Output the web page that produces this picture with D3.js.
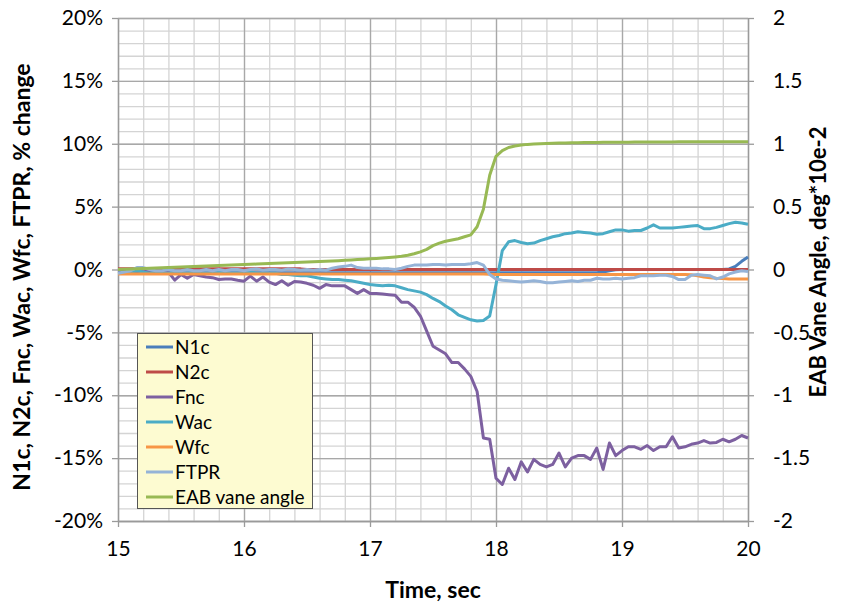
<!DOCTYPE html>
<html><head><meta charset="utf-8">
<script src="https://cdn.jsdelivr.net/npm/d3@7"></script>
<style>
html,body{margin:0;padding:0;background:#fff;}
svg{display:block;}
text{font-family:Lato,"Open Sans",sans-serif;fill:#000;}
</style></head>
<body><svg id="chart" width="849" height="606"></svg>
<script>
// sample times (s), 0.05 s step
const time = d3.range(0, 101).map(i => 15 + i * 0.05);

const xTicks = [15, 16, 17, 18, 19, 20];
const yLeftTicks = [-20, -15, -10, -5, 0, 5, 10, 15, 20];
const yRightTicks = [-2, -1.5, -1, -0.5, 0, 0.5, 1, 1.5, 2];

const seriesNames = ["N1c", "N2c", "Fnc", "Wac", "Wfc", "FTPR", "EAB vane angle"];
const seriesColors = ["#4a7ebb", "#be4b48", "#7d60a0", "#4bacc6", "#f79646", "#95b3d7", "#98b954"];

const N1c = [
 -0.25,-0.25,-0.25,-0.25,-0.25,-0.25,-0.25,-0.25,-0.25,-0.25,
 -0.25,-0.25,-0.25,-0.25,-0.25,-0.25,-0.25,-0.25,-0.25,-0.25,
 -0.25,-0.25,-0.25,-0.25,-0.25,-0.25,-0.25,-0.25,-0.25,-0.25,
 -0.25,-0.25,-0.25,-0.25,-0.25,-0.25,-0.25,-0.25,-0.25,-0.25,
 -0.25,-0.25,-0.25,-0.25,-0.25,-0.25,-0.25,-0.25,-0.25,-0.25,
 -0.25,-0.25,-0.25,-0.25,-0.25,-0.25,-0.25,-0.25,-0.25,-0.25,
 -0.25,-0.25,-0.25,-0.25,-0.25,-0.25,-0.25,-0.25,-0.25,-0.25,
 -0.25,-0.25,-0.25,-0.25,-0.25,-0.25,-0.25,-0.2,-0.1,-0.02,
 0.0,0.0,0.0,0.0,0.0,0.0,0.0,0.0,0.0,0.0,
 0.0,0.0,0.0,0.0,0.0,0.0,0.0,0.05,0.25,0.65,
 1.0];
const N2c = [
 0.05,0.05,0.05,0.05,0.05,0.05,0.05,0.05,0.05,0.05,
 0.05,0.05,0.05,0.05,0.05,0.05,0.05,0.05,0.05,0.05,
 0.05,0.05,0.05,0.05,0.05,0.05,0.05,0.05,0.05,0.05,
 0.0,0.0,0.0,0.0,0.0,0.0,0.0,0.0,0.0,0.0,
 0.0,0.0,0.0,0.0,0.0,0.0,0.0,0.0,0.0,0.0,
 0.0,0.0,0.0,0.0,0.0,0.0,0.0,0.0,0.0,0.0,
 0.0,0.0,0.0,0.0,0.0,0.0,0.0,0.0,0.0,0.0,
 0.0,0.0,0.0,0.0,0.0,0.0,0.0,0.0,0.0,0.0,
 0.0,0.0,0.0,0.0,0.0,0.0,0.0,0.0,0.0,0.0,
 0.0,0.0,0.0,0.0,0.0,0.0,0.0,0.0,0.0,0.0,
 0.0];
const Fnc = [
 -0.1,-0.1,-0.2,-0.1,-0.2,-0.1,-0.2,-0.3,-0.2,-0.85,
 -0.4,-0.7,-0.4,-0.5,-0.6,-0.65,-0.8,-0.75,-0.75,-0.85,
 -0.93,-0.53,-0.93,-0.6,-1.0,-1.2,-0.9,-1.25,-0.95,-1.0,
 -1.1,-1.25,-1.5,-1.2,-1.3,-1.3,-1.3,-1.6,-1.9,-1.6,
 -1.9,-1.9,-1.95,-2.0,-2.05,-2.6,-2.6,-3.0,-3.7,-4.9,
 -6.1,-6.4,-6.7,-7.4,-7.4,-7.9,-8.5,-9.7,-13.4,-13.5,
 -16.6,-17.1,-15.8,-16.7,-15.3,-16.1,-15.1,-15.5,-15.7,-15.5,
 -14.6,-15.7,-15.0,-14.8,-14.8,-15.1,-14.2,-15.9,-13.8,-14.8,
 -14.4,-14.1,-14.1,-14.3,-14.0,-14.4,-14.1,-14.1,-13.3,-14.2,
 -14.1,-13.9,-13.8,-13.6,-13.8,-13.75,-13.5,-13.7,-13.5,-13.2,
 -13.4];
const Wac = [
 -0.3,-0.3,-0.2,-0.1,-0.2,-0.3,-0.2,-0.3,-0.3,-0.2,
 -0.3,-0.3,-0.2,-0.3,-0.3,-0.3,-0.2,-0.3,-0.3,-0.3,
 -0.3,-0.2,-0.3,-0.3,-0.3,-0.3,-0.4,-0.4,-0.45,-0.5,
 -0.5,-0.6,-0.7,-0.75,-0.8,-0.8,-0.85,-0.9,-1.0,-1.1,
 -1.2,-1.25,-1.3,-1.25,-1.3,-1.45,-1.6,-1.7,-1.8,-2.0,
 -2.3,-2.55,-2.9,-3.2,-3.6,-3.8,-4.0,-4.1,-4.05,-3.7,
 -1.2,1.5,2.2,2.3,2.15,2.05,2.1,2.3,2.45,2.6,
 2.7,2.85,2.9,3.0,2.95,2.9,2.8,2.85,3.0,3.15,
 3.15,3.05,3.1,3.1,3.3,3.55,3.3,3.3,3.3,3.35,
 3.4,3.45,3.5,3.25,3.25,3.35,3.5,3.65,3.75,3.7,
 3.6];
const Wfc = [
 -0.35,-0.35,-0.35,-0.35,-0.35,-0.35,-0.35,-0.35,-0.35,-0.35,
 -0.35,-0.35,-0.35,-0.35,-0.35,-0.35,-0.35,-0.35,-0.35,-0.35,
 -0.35,-0.35,-0.35,-0.35,-0.35,-0.35,-0.35,-0.35,-0.35,-0.35,
 -0.35,-0.35,-0.35,-0.35,-0.35,-0.35,-0.35,-0.35,-0.35,-0.35,
 -0.35,-0.35,-0.35,-0.35,-0.35,-0.35,-0.35,-0.35,-0.35,-0.35,
 -0.35,-0.35,-0.35,-0.35,-0.35,-0.35,-0.35,-0.35,-0.35,-0.38,
 -0.4,-0.4,-0.4,-0.4,-0.4,-0.4,-0.4,-0.4,-0.4,-0.4,
 -0.4,-0.4,-0.4,-0.4,-0.4,-0.4,-0.4,-0.4,-0.4,-0.4,
 -0.4,-0.4,-0.4,-0.4,-0.4,-0.4,-0.4,-0.4,-0.4,-0.4,
 -0.4,-0.42,-0.5,-0.6,-0.65,-0.7,-0.72,-0.75,-0.75,-0.75,
 -0.75];
const FTPR = [
 -0.3,-0.2,-0.1,0.15,0.15,0.0,-0.1,-0.1,0.0,-0.1,
 -0.1,0.0,-0.1,-0.1,0.0,-0.1,0.0,-0.1,0.0,0.0,
 -0.1,0.0,0.05,-0.05,0.0,0.0,-0.05,0.05,0.0,-0.05,
 0.0,-0.05,0.0,-0.05,0.1,0.2,0.25,0.35,0.15,0.1,
 0.1,0.1,0.05,0.05,0.0,0.1,0.25,0.35,0.35,0.35,
 0.4,0.4,0.35,0.4,0.4,0.4,0.45,0.55,0.35,-0.4,
 -0.75,-0.85,-0.9,-0.95,-1.0,-0.95,-0.9,-0.95,-1.05,-1.05,
 -1.0,-0.95,-0.9,-0.95,-0.85,-0.85,-0.7,-0.75,-0.75,-0.7,
 -0.75,-0.7,-0.65,-0.5,-0.5,-0.5,-0.45,-0.45,-0.55,-0.8,
 -0.8,-0.45,-0.4,-0.45,-0.5,-0.75,-0.6,-0.35,-0.2,-0.1,
 -0.15];
// secondary axis (deg*10e-2)
const EAB = [
 0.000,0.002,0.004,0.006,0.008,0.010,0.012,0.014,0.016,0.018,
 0.020,0.022,0.024,0.026,0.028,0.030,0.031,0.033,0.035,0.037,
 0.039,0.041,0.043,0.045,0.047,0.049,0.051,0.053,0.055,0.057,
 0.059,0.061,0.063,0.065,0.067,0.070,0.073,0.076,0.079,0.082,
 0.085,0.088,0.091,0.095,0.100,0.106,0.114,0.125,0.140,0.160,
 0.190,0.210,0.225,0.235,0.245,0.260,0.275,0.340,0.480,0.750,
 0.900,0.945,0.970,0.982,0.990,0.995,0.998,1.000,1.002,1.004,
 1.005,1.006,1.007,1.008,1.009,1.010,1.010,1.011,1.011,1.012,
 1.012,1.012,1.013,1.013,1.013,1.014,1.014,1.014,1.014,1.015,
 1.015,1.015,1.015,1.015,1.015,1.015,1.015,1.015,1.015,1.015,
 1.015];

const pL = 118, pR = 748, pT = 18, pB = 521;
const svg = d3.select("#chart");
const x = d3.scaleLinear().domain([15, 20]).range([pL, pR]);
const yL = d3.scaleLinear().domain([-20, 20]).range([pB, pT]);
const yR = d3.scaleLinear().domain([-2, 2]).range([pB, pT]);

// gridlines
const grid = svg.append("g");
grid.append("g").attr("transform", `translate(0,${pB})`)
  .call(d3.axisBottom(x).tickValues(d3.range(0, 26).map(i => 15 + i * 0.2)).tickSize(-(pB - pT)).tickFormat(""))
  .call(g => g.select(".domain").remove())
  .call(g => g.selectAll("line").attr("stroke", "#d4d4d4").attr("stroke-width", 1.3));
grid.append("g").attr("transform", `translate(${pL},0)`)
  .call(d3.axisLeft(yL).tickValues(d3.range(-20, 21, 1)).tickSize(-(pR - pL)).tickFormat(""))
  .call(g => g.select(".domain").remove())
  .call(g => g.selectAll("line").attr("stroke", "#d4d4d4").attr("stroke-width", 1.3));
grid.append("g").attr("transform", `translate(0,${pB})`)
  .call(d3.axisBottom(x).tickValues(xTicks).tickSize(-(pB - pT)).tickFormat(""))
  .call(g => g.select(".domain").remove())
  .call(g => g.selectAll("line").attr("stroke", "#a8a8a8").attr("stroke-width", 1.3));
grid.append("g").attr("transform", `translate(${pL},0)`)
  .call(d3.axisLeft(yL).tickValues(yLeftTicks).tickSize(-(pR - pL)).tickFormat(""))
  .call(g => g.select(".domain").remove())
  .call(g => g.selectAll("line").attr("stroke", "#a8a8a8").attr("stroke-width", 1.3));

// axes
const axisStyle = g => {
  g.select(".domain").attr("stroke", "#9a9a9a").attr("stroke-width", 1.3);
  g.selectAll(".tick line").attr("stroke", "#9a9a9a").attr("stroke-width", 1.3);
  g.selectAll("text").attr("font-size", 21).attr("fill", "#000").attr("font-family", "Lato, sans-serif");
};
svg.append("g").attr("transform", `translate(${pL},0)`)
  .call(d3.axisLeft(yL).tickValues(yLeftTicks).tickSize(6).tickPadding(9).tickFormat(d => d + "%").tickSizeOuter(0))
  .call(axisStyle);
svg.append("g").attr("transform", `translate(${pR},0)`)
  .call(d3.axisRight(yR).tickValues(yRightTicks).tickSize(6).tickPadding(19).tickFormat(d => String(d)).tickSizeOuter(0))
  .call(axisStyle);
svg.append("g").attr("transform", `translate(0,${pB})`)
  .call(d3.axisBottom(x).tickValues(xTicks).tickSize(6).tickPadding(14).tickFormat(d => String(d)).tickSizeOuter(0))
  .call(axisStyle);

// series
const seriesData = [N1c, N2c, Fnc, Wac, Wfc, FTPR];
const line = (scale) => d3.line().x((d, i) => x(time[i])).y(d => scale(d));
seriesData.forEach((s, k) => {
  svg.append("path").datum(s).attr("d", line(yL)).attr("fill", "none")
    .attr("stroke", seriesColors[k]).attr("stroke-width", 3).attr("stroke-linejoin", "round");
});
svg.append("path").datum(EAB).attr("d", line(yR)).attr("fill", "none")
  .attr("stroke", seriesColors[6]).attr("stroke-width", 3).attr("stroke-linejoin", "round");

// titles
svg.append("text").attr("x", 433).attr("y", 598).attr("text-anchor", "middle")
  .attr("font-size", 23).attr("font-weight", "bold").text("Time, sec");
svg.append("text").attr("transform", "translate(30,277) rotate(-90)").attr("text-anchor", "middle")
  .attr("font-size", 23).attr("font-weight", "bold").text("N1c, N2c, Fnc, Wac, Wfc, FTPR, % change");
svg.append("text").attr("transform", "translate(826,262) rotate(-90)").attr("text-anchor", "middle")
  .attr("font-size", 22).attr("font-weight", "bold").text("EAB Vane Angle, deg*10e-2");

// legend
const lg = svg.append("g");
lg.append("rect").attr("x", 137.5).attr("y", 333.5).attr("width", 175).attr("height", 175)
  .attr("fill", "#fdfbd1").attr("stroke", "#555").attr("stroke-width", 1);
seriesNames.forEach((n, i) => {
  const yy = 347 + i * 25;
  lg.append("line").attr("x1", 146).attr("x2", 173).attr("y1", yy).attr("y2", yy)
    .attr("stroke", seriesColors[i]).attr("stroke-width", 3);
  lg.append("text").attr("x", 175).attr("y", yy + 6.5).attr("font-size", 19).text(n);
});
</script></body></html>
